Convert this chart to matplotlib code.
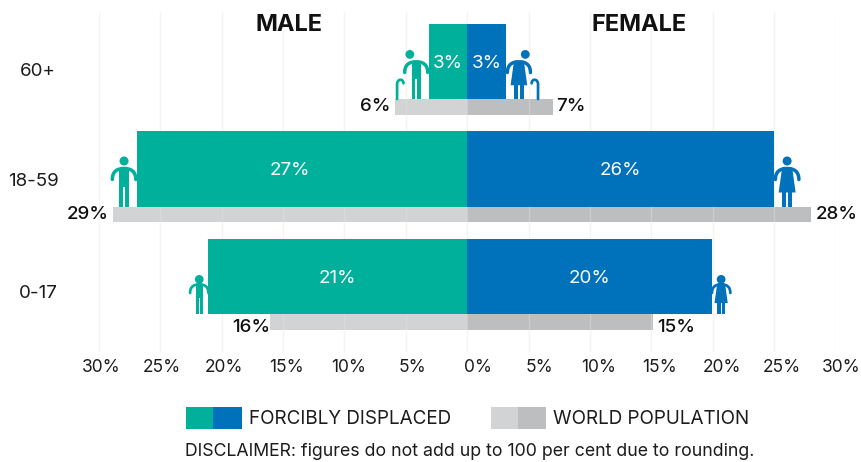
import matplotlib
matplotlib.use('Agg')
import matplotlib.pyplot as plt
from matplotlib.patches import Circle, PathPatch, Polygon, Rectangle
from matplotlib.path import Path
from matplotlib.transforms import Affine2D, ScaledTranslation

plt.rcParams['font.family'] = ['Inter', 'DejaVu Sans']

age_groups = ['60+', '18-59', '0-17']
displaced_male = [3.1, 26.9, 21.1]
displaced_female = [3.15, 25.0, 19.95]
world_male = [5.9, 28.9, 16.05]
world_female = [7.0, 28.0, 15.15]
displaced_male_labels = ['3%', '27%', '21%']
displaced_female_labels = ['3%', '26%', '20%']
world_male_labels = ['6%', '29%', '16%']
world_female_labels = ['7%', '28%', '15%']
ticks = [-30, -25, -20, -15, -10, -5, 0, 5, 10, 15, 20, 25, 30]
tick_labels = ['30%', '25%', '20%', '15%', '10%', '5%', '0%', '5%', '10%', '15%', '20%', '25%', '30%']

GREEN = '#00b09b'
BLUE = '#0072bc'
GREY_L = '#d1d3d4'
GREY_R = '#bcbec0'
TEXT = '#1c1c1c'

W, H = 861, 462
fig = plt.figure(figsize=(W / 100, H / 100), dpi=100)
ax = fig.add_axes([99 / W, (H - 352) / H, 736.5 / W, 340 / H])

rows = list(range(len(age_groups)))
ROW_PX = 107.5
bar_h = 75.5 / ROW_PX
world_h = 15.5 / ROW_PX
world_pos = [r + (bar_h + world_h) / 2 for r in rows]

ax.barh(rows, [-v for v in displaced_male], height=bar_h, color=GREEN, zorder=3)
ax.barh(rows, displaced_female, height=bar_h, color=BLUE, zorder=3)
ax.barh(world_pos, [-v for v in world_male], height=world_h, color=GREY_L, zorder=1)
ax.barh(world_pos, world_female, height=world_h, color=GREY_R, zorder=1)

ax.set_xlim(-30, 30)
ax.set_ylim((352 - 61.25) / ROW_PX, (12 - 61.25) / ROW_PX)
ax.set_xticks(ticks)
ax.set_xticklabels(tick_labels)
ax.set_yticks([])
ax.tick_params(axis='x', length=0, pad=5, labelsize=12.5, labelcolor=TEXT)
ax.grid(axis='x', color='#e4e4e4', lw=1, alpha=0.4, zorder=2)
ax.set_axisbelow(False)
for s in ax.spines.values():
    s.set_visible(False)

# the labels are not centred on the gridlines in the original
label_shift = [2, 2, 2, 3, 4, 7, 11, 11, 9, 8, 9, 8, 6]
for lab, dx in zip(ax.get_xticklabels(), label_shift):
    lab.set_transform(lab.get_transform() + ScaledTranslation(dx / 100, 0, fig.dpi_scale_trans))

px = 1 / (736.5 / 60)
py = 1 / ROW_PX

# value labels
inner_shift = [0, -12, 0]
for i, r in enumerate(rows):
    ax.text(-displaced_male[i] / 2 + inner_shift[i] * px, r + 2 * py, displaced_male_labels[i], color='white',
            fontsize=13.5, ha='center', va='center', zorder=5)
    ax.text(displaced_female[i] / 2, r + 2 * py, displaced_female_labels[i], color='white',
            fontsize=13.5, ha='center', va='center', zorder=5)

world_shift = [0, 0, 6]
male_gap = [4, 4, 0]
female_gap = [3, 5, 4]
for i, r in enumerate(rows):
    y = world_pos[i] + world_shift[i] * py
    ax.text(-world_male[i] - male_gap[i] * px, y, world_male_labels[i], color='#111111', fontsize=13.5,
            fontweight='medium', ha='right', va='center', zorder=5)
    ax.text(world_female[i] + female_gap[i] * px, y, world_female_labels[i], color='#111111', fontsize=13.5,
            fontweight='medium', ha='left', va='center', zorder=5)

# age groups sit a little below the middle of their row
for name, x, y in zip(age_groups, [38, 33, 38], [71, 182, 294]):
    fig.text(x / W, 1 - y / H, name, color=TEXT, fontsize=13.5, ha='center', va='center')

fig.text(289 / W, 1 - 25 / H, 'MALE', color='#111111', fontsize=17, fontweight='bold', ha='center', va='center')
fig.text(639 / W, 1 - 25 / H, 'FEMALE', color='#111111', fontsize=17, fontweight='bold', ha='center', va='center')


def person(cx, feet, h, color, female=False, cane=False, head=0.09):
    # unit icon: feet at y=0, top of head at y=1
    t = Affine2D().scale(h).translate(cx, feet)
    head_x = 0
    if cane:
        head_x = 0.13 if female else -0.13
    fig.add_artist(Circle((head_x, 1 - head), head, color=color, lw=0, transform=t))
    arms = Path([(-0.235, 0.54), (-0.235, 0.70), (-0.14, 0.76), (0.0, 0.76), (0.14, 0.76), (0.235, 0.70), (0.235, 0.54)],
                [Path.MOVETO, Path.CURVE4, Path.CURVE4, Path.CURVE4, Path.CURVE4, Path.CURVE4, Path.CURVE4])
    fig.add_artist(PathPatch(arms, fc='none', ec=color, lw=0.07 * h * 0.72, capstyle='round', transform=t))
    if female:
        fig.add_artist(Polygon([(-0.1, 0.78), (0.1, 0.78), (0.17, 0.28), (-0.17, 0.28)], color=color, lw=0, transform=t))
        fig.add_artist(Rectangle((-0.105, 0), 0.09, 0.3, color=color, lw=0, transform=t))
        fig.add_artist(Rectangle((0.015, 0), 0.09, 0.3, color=color, lw=0, transform=t))
    else:
        fig.add_artist(Rectangle((-0.095, 0.4), 0.19, 0.38, color=color, lw=0, transform=t))
        fig.add_artist(Rectangle((-0.095, 0), 0.08, 0.42, color=color, lw=0, transform=t))
        fig.add_artist(Rectangle((0.015, 0), 0.08, 0.42, color=color, lw=0, transform=t))
    if cane:
        side = 1 if female else -1
        stick = Path([(side * 0.39, 0.0), (side * 0.39, 0.3), (side * 0.39, 0.42), (side * 0.26, 0.42), (side * 0.26, 0.32)],
                     [Path.MOVETO, Path.LINETO, Path.CURVE4, Path.CURVE4, Path.CURVE4])
        fig.add_artist(PathPatch(stick, fc='none', ec=color, lw=0.055 * h * 0.72, capstyle='round', transform=t))


offsets = [13, 13, 9]
heights = [49, 50, 39]
heads = [0.09, 0.09, 0.112]
for i, r in enumerate(rows):
    feet = r + bar_h / 2
    x0, y0 = ax.transData.transform((-displaced_male[i], feet))
    person(x0 - offsets[i], y0, heights[i], GREEN, cane=i == 0, head=heads[i])
    x1, y1 = ax.transData.transform((displaced_female[i], feet))
    person(x1 + offsets[i], y1, heights[i], BLUE, female=True, cane=i == 0, head=heads[i])

# legend
for x0, x1, col in [(186, 213, GREEN), (213, 242, BLUE), (491, 518, GREY_L), (518, 545.5, GREY_R)]:
    fig.add_artist(Rectangle((x0 / W, 1 - 429 / H), (x1 - x0) / W, 22 / H, color=col, lw=0,
                             transform=fig.transFigure))
fig.text(249 / W, 1 - 419 / H, 'FORCIBLY DISPLACED', color=TEXT, fontsize=13.6, ha='left', va='center')
fig.text(553 / W, 1 - 419 / H, 'WORLD POPULATION', color=TEXT, fontsize=13.6, ha='left', va='center')
fig.text(470 / W, 1 - 451 / H, 'DISCLAIMER: figures do not add up to 100 per cent due to rounding.',
         color=TEXT, fontsize=12.75, ha='center', va='center')

plt.savefig('out.png', dpi=100)
